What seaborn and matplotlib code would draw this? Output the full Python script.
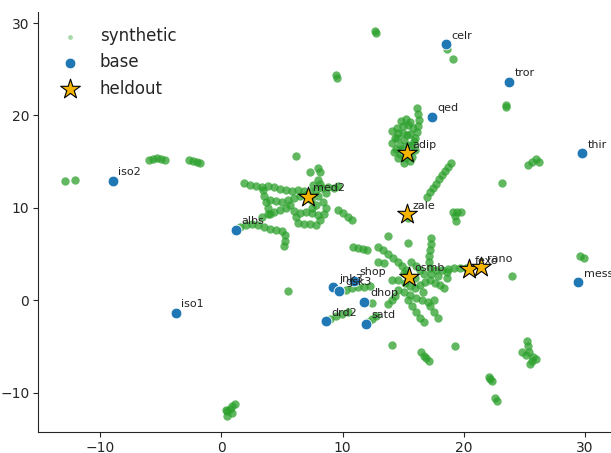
import seaborn as sns
import matplotlib.pyplot as plt
import pandas as pd

# --- datos ---
base_names = ["celr", "tror", "qed", "thir", "iso2", "albs", "iso1", "mess",
              "jnk3", "gsk3", "shop", "dhop", "drd2", "satd"]
base_x = [18.55, 23.75, 17.38, 29.74, -8.97, 1.19, -3.76, 29.46,
          9.24, 9.74, 10.95, 11.8, 8.6, 11.9]
base_y = [27.7, 23.64, 19.88, 15.92, 12.92, 7.61, -1.36, 1.95,
          1.41, 1.0, 2.1, -0.15, -2.27, -2.57]

held_names = ["adip", "med2", "zale", "osmb", "fexo", "rano"]
held_x = [15.3, 7.13, 15.3, 15.49, 20.46, 21.43]
held_y = [15.92, 11.22, 9.31, 2.56, 3.36, 3.57]

# nube sintetica, por grupos (x, y)
syn_top = [(12.68, 29.16), (12.76, 28.95), (9.46, 24.38), (9.55, 24.05),
           (18.65, 27.2), (19.1, 26.1), (23.5, 21.15), (23.5, 20.9),
           (23.16, 12.7), (6.16, 15.62), (5.5, 1.0)]

syn_left = [(-5.97, 15.19), (-5.64, 15.3), (-5.31, 15.35), (-4.98, 15.3), (-4.65, 15.19),
            (-2.67, 15.19), (-2.34, 15.08), (-2.0, 14.98), (-1.76, 14.87),
            (-12.9, 12.92), (-12.05, 13.03)]

syn_adip = [(16.15, 20.81), (16.23, 20.16), (16.31, 19.51), (16.23, 18.87), (16.15, 18.22),
            (15.98, 17.57), (15.73, 16.82), (14.09, 18.33), (14.5, 18.66), (15.0, 18.87),
            (15.4, 18.98), (15.0, 18.12), (14.5, 17.57), (14.09, 17.03), (14.41, 16.38),
            (14.74, 15.84), (15.15, 15.41), (15.56, 15.08), (15.07, 14.87), (14.58, 15.41),
            (14.25, 16.06), (15.4, 16.82), (15.07, 17.36), (15.56, 18.01), (15.81, 18.66),
            (14.74, 16.82), (15.98, 16.28), (15.73, 15.52), (14.82, 19.41), (15.23, 19.62),
            (14.9, 16.4), (15.3, 17.9), (14.3, 17.6), (15.9, 17.2), (15.4, 15.9),
            (14.6, 18.1), (15.6, 19.3)]

syn_diag = [(18.95, 14.87), (18.7, 14.43), (18.46, 14.0), (18.21, 13.57), (17.96, 13.13),
            (17.72, 12.59), (17.47, 12.16), (17.22, 11.73), (16.97, 11.19),
            (25.3, 14.65), (25.63, 14.98), (25.96, 15.3), (26.21, 14.98)]

syn_zale = [(15.4, 8.91), (19.12, 9.56), (19.45, 9.6), (19.78, 9.56), (19.3, 9.1), (19.37, 8.6),
            (13.75, 6.96), (15.4, 6.2), (10.87, 5.77), (11.28, 5.66), (11.69, 5.56), (12.02, 5.45)]

syn_med2 = [(1.87, 12.7), (2.37, 12.48), (2.86, 12.38), (3.36, 12.27), (3.85, 12.38),
            (4.35, 12.27), (4.84, 12.05), (5.34, 11.94), (5.83, 11.84), (6.33, 11.94),
            (6.82, 11.84), (7.32, 11.73), (7.81, 11.94), (8.31, 12.16), (8.8, 12.27),
            (9.3, 12.16), (9.63, 12.38), (7.32, 13.89), (7.98, 14.33), (8.14, 13.89),
            (7.98, 13.03), (3.44, 11.94), (3.52, 11.29), (3.69, 10.64), (3.85, 9.99),
            (4.02, 9.35), (3.36, 9.02), (3.85, 9.35), (4.35, 9.56), (4.84, 9.78),
            (5.34, 9.99), (4.02, 10.86), (4.51, 10.75), (5.01, 10.64), (5.5, 10.86),
            (6.0, 11.08), (6.49, 11.29), (6.99, 11.4), (5.67, 10.32), (6.0, 9.67),
            (6.16, 9.02), (6.33, 8.37), (1.54, 7.94), (2.04, 8.15), (2.53, 8.26),
            (3.03, 8.15), (3.52, 7.94), (4.02, 7.72), (4.51, 7.61), (5.01, 7.5),
            (5.26, 7.07), (5.26, 6.42), (5.17, 5.88), (6.49, 9.45), (6.99, 9.56),
            (7.48, 9.45), (7.98, 9.24), (7.98, 11.29), (8.39, 10.64), (8.64, 9.99),
            (8.47, 9.35), (8.14, 8.69), (9.63, 9.78), (10.04, 9.45), (10.45, 9.02),
            (10.78, 8.69), (6.82, 8.26), (7.32, 8.26), (7.81, 8.15), (7.4, 10.86),
            (7.81, 10.32), (7.48, 9.99), (8.6, 11.6), (8.1, 12.6), (7.6, 12.5)]

syn_osmb = [(17.3, 6.75), (17.3, 6.1), (17.22, 5.45), (17.14, 4.8), (17.14, 4.15),
            (17.22, 3.5), (17.3, 2.85), (12.94, 5.77), (13.35, 5.45), (13.76, 5.01),
            (14.17, 4.58), (14.58, 4.15), (14.91, 3.71), (15.23, 3.28), (15.64, 4.15),
            (16.06, 3.71), (16.39, 3.28), (16.72, 2.85), (17.72, 3.28), (18.21, 3.28),
            (18.7, 3.39), (19.2, 3.5), (19.69, 3.5), (20.19, 3.5), (14.58, 2.2),
            (15.15, 1.87), (15.56, 1.55), (15.98, 1.33), (16.39, 1.66), (16.8, 1.98),
            (17.22, 2.2), (17.63, 1.87), (18.05, 1.66), (18.38, 1.33), (14.58, 1.12),
            (15.07, 0.9), (15.56, 0.57), (16.06, 0.25), (16.56, 0.03), (17.05, -0.18),
            (17.55, 0.03), (15.4, 0.03), (15.73, -0.62), (16.06, -1.27), (16.39, -1.92),
            (16.72, -2.35), (17.22, -0.62), (17.55, -1.27), (17.88, -1.92), (14.33, 0.47),
            (14.09, 0.03), (13.76, -0.4), (12.93, 4.15), (13.43, 4.04), (18.63, 3.06),
            (18.63, 2.41), (16.0, 2.4), (16.6, 0.9), (15.1, 2.9), (17.9, 2.6)]

syn_dock = [(10.29, 1.12), (10.78, 1.33), (11.28, 1.44), (11.77, 1.44), (12.27, 1.55),
            (14.09, 2.2), (12.44, -0.29), (8.97, -2.02), (9.46, -1.7), (9.96, -1.48),
            (10.45, -1.27), (12.1, -2.35), (12.44, -2.02), (12.77, -1.7)]

syn_right = [(23.99, 2.63), (29.6, 4.8), (29.93, 4.58)]

syn_low = [(14.1, -4.8), (19.3, -5.0), (16.45, -5.6), (16.7, -6.0), (16.9, -6.3), (17.1, -6.6),
           (22.1, -8.3), (22.2, -8.5), (22.3, -8.7), (22.55, -10.6), (22.75, -10.9),
           (25.2, -4.4), (25.3, -5.0), (25.4, -5.6), (25.1, -5.9), (24.8, -5.6), (25.7, -6.2),
           (26.0, -6.4), (25.6, -6.6), (25.5, -6.9), (0.5, -12.5), (0.5, -12.0), (0.7, -11.8),
           (0.9, -11.5), (1.1, -11.2), (0.9, -12.2), (0.4, -11.9)]

syn_all = (syn_top + syn_left + syn_adip + syn_diag + syn_zale + syn_med2
           + syn_osmb + syn_dock + syn_right + syn_low)
df_syn = pd.DataFrame(syn_all, columns=["x", "y"])
df_base = pd.DataFrame({"x": base_x, "y": base_y, "name": base_names})
df_held = pd.DataFrame({"x": held_x, "y": held_y, "name": held_names})

sns.set_style("ticks")

fig, ax = plt.subplots(figsize=(6.11, 4.53), dpi=100)
fig.subplots_adjust(left=0.0627, right=0.999, bottom=0.0457, top=0.9735)

sns.scatterplot(data=df_syn, x="x", y="y", ax=ax, color="#2ca02c", s=36,
                alpha=0.75, linewidth=0, label="synthetic")
sns.scatterplot(data=df_base, x="x", y="y", ax=ax, color="#1f77b4", s=60,
                label="base")
sns.scatterplot(data=df_held, x="x", y="y", ax=ax, marker="*", s=220,
                color="#f5b400", edgecolor="black", linewidth=0.8, label="heldout")

for _, r in pd.concat([df_base, df_held]).iterrows():
    ax.annotate(r["name"], (r["x"], r["y"]), xytext=(4, 4),
                textcoords="offset points", fontsize=8, color="#222222")

ax.set_xlim(-15.1, 32.1)
ax.set_ylim(-14.3, 31.2)
ax.set_xlabel("")
ax.set_ylabel("")
ax.set_xticks([-10, 0, 10, 20, 30])
ax.set_yticks([-10, 0, 10, 20, 30])
ax.tick_params(labelsize=10, pad=3)
sns.despine(ax=ax)

leg = ax.legend(loc="upper left", frameon=False, fontsize=12)
leg.legend_handles[0].set_sizes([12])
leg.legend_handles[0].set_alpha(0.4)

plt.savefig("out.png", dpi=100)
